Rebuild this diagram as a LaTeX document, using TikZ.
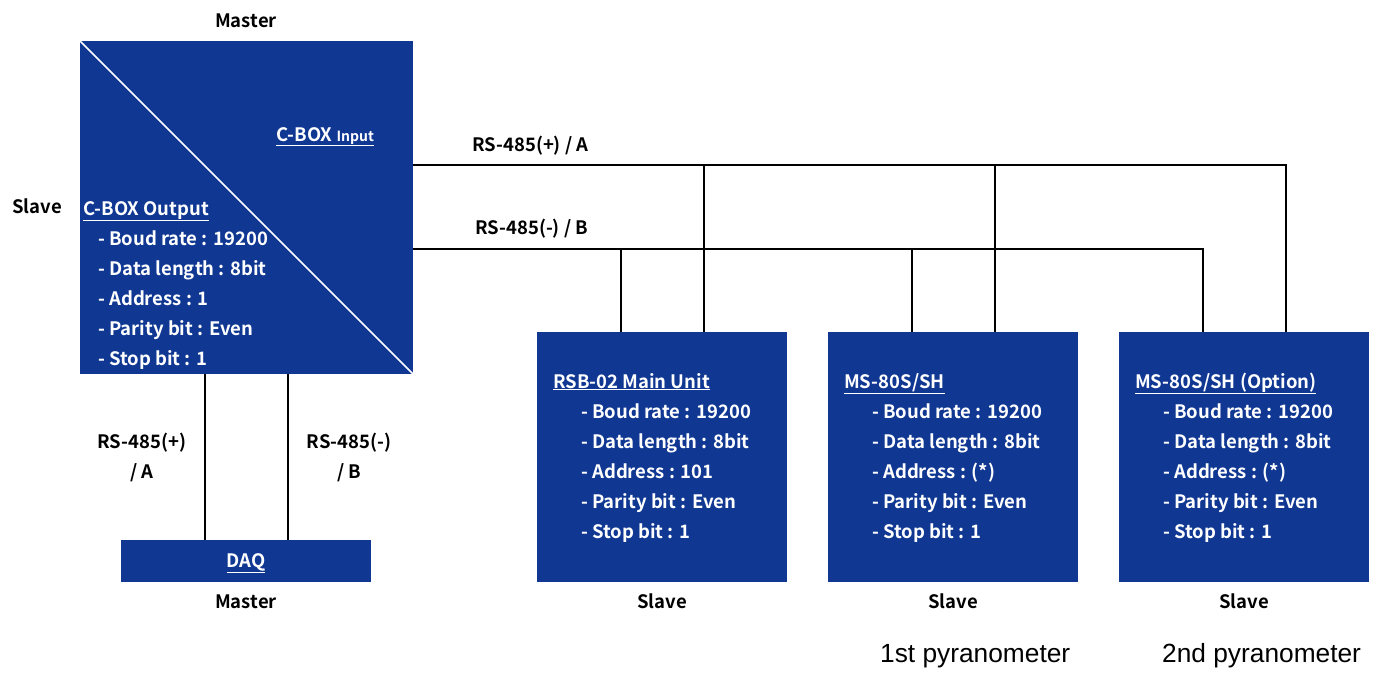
\documentclass[tikz,border=0pt]{standalone}
\usepackage{fontspec}
\setmainfont{Noto Sans CJK JP}[BoldFont={Noto Sans CJK JP Bold}]
\newfontfamily\plainfont{Liberation Sans}
\usetikzlibrary{calc}
\definecolor{cblue}{RGB}{16,56,147}
\begin{document}
\begin{tikzpicture}[x=1pt,y=-1pt,
  blk/.style={fill=cblue,draw=none,inner sep=0pt,anchor=north west},
  wire/.style={draw=black,line width=1.8pt},
  txt/.style={inner sep=0pt,font=\bfseries\fontsize{18.5}{22}\selectfont},
  wtxt/.style={txt,text=white,anchor=base west},
  ktxt/.style={txt,text=black,anchor=base},
  pyr/.style={inner sep=0pt,anchor=base west,font=\plainfont\fontsize{26.3}{30}\selectfont}]
\useasboundingbox[fill=white] (0,0) rectangle (1382,678);

% C-BOX
\node[blk,minimum width=333pt,minimum height=333pt] (cbox) at (80,41) {};
\draw[white,line width=1.6pt] (cbox.north west) -- (cbox.south east);
\node[ktxt] (mtop) at (246,27) {Master};
\node[ktxt,anchor=base west] (sltop) at (12,213) {Slave};
\node[wtxt] (cin) at (276,141) {\underline{C-BOX {\fontsize{14}{16}\selectfont Input}}};
\node[wtxt] (cout) at (83,215) {\underline{C-BOX Output}};
\node[wtxt] (c1) at (98,245) {- Boud rate : 19200};
\node[wtxt] (c2) at (98,275) {- Data length : 8bit};
\node[wtxt] (c3) at (98,305) {- Address : 1};
\node[wtxt] (c4) at (98,335) {- Parity bit : Even};
\node[wtxt] (c5) at (98,365) {- Stop bit : 1};

% DAQ
\node[blk,minimum width=250pt,minimum height=42pt] (daq) at (121,540) {};
\node[ktxt,text=white] (daqt) at (246,567) {\underline{DAQ}};
\node[ktxt] (mbot) at (246,608) {Master};
\coordinate (dA) at ($(daq.north west)+(84,0)$);
\coordinate (dB) at ($(daq.north west)+(167,0)$);
\draw[wire] (dA |- cbox.south) -- (dA);
\draw[wire] (dB |- cbox.south) -- (dB);
\node[ktxt] (la1) at (142,448) {RS-485(+)};
\node[ktxt] (la2) at (142,478) {/ A};
\node[ktxt] (lb1) at (349,448) {RS-485(-)};
\node[ktxt] (lb2) at (349,478) {/ B};

% slave boxes
\foreach \n/\xx/\title/\addr in {s1/537/{RSB-02 Main Unit}/101, s2/828/{MS-80S/SH}/(*), s3/1119/{MS-80S/SH (Option)}/(*)}{
  \node[blk,minimum width=250pt,minimum height=250pt] (\n) at (\xx,332) {};
  \node[wtxt] (\n t) at ($(\n.north west)+(16,56)$) {\underline{\title}};
  \node[wtxt] (\n i1) at ($(\n.north west)+(44,86)$) {- Boud rate : 19200};
  \node[wtxt] (\n i2) at ($(\n.north west)+(44,116)$) {- Data length : 8bit};
  \node[wtxt] (\n i3) at ($(\n.north west)+(44,146)$) {- Address : \addr};
  \node[wtxt] (\n i4) at ($(\n.north west)+(44,176)$) {- Parity bit : Even};
  \node[wtxt] (\n i5) at ($(\n.north west)+(44,206)$) {- Stop bit : 1};
  \node[ktxt] (\n s) at ($(\n.south)+(0,26)$) {Slave};
  \coordinate (\n b) at ($(\n.north west)+(84,0)$);
  \coordinate (\n a) at ($(\n.north west)+(167,0)$);
}

% bus
\coordinate (busA) at ($(cbox.north east)+(0,124)$);
\coordinate (busB) at ($(cbox.north east)+(0,208)$);
\draw[wire] (busA) -- (busA -| s3a) -- (s3a);
\draw[wire] (busB) -- (busB -| s3b) -- (s3b);
\draw[wire] (s1a |- busA) -- (s1a);
\draw[wire] (s2a |- busA) -- (s2a);
\draw[wire] (s1b |- busB) -- (s1b);
\draw[wire] (s2b |- busB) -- (s2b);
\node[ktxt,anchor=base west] (busAl) at (472,151) {RS-485(+) / A};
\node[ktxt,anchor=base west] (busBl) at (475,234) {RS-485(-) / B};

\node[pyr] (p1) at (880,662) {1st pyranometer};
\node[pyr] (p2) at (1162,662) {2nd pyranometer};
\end{tikzpicture}
\end{document}
